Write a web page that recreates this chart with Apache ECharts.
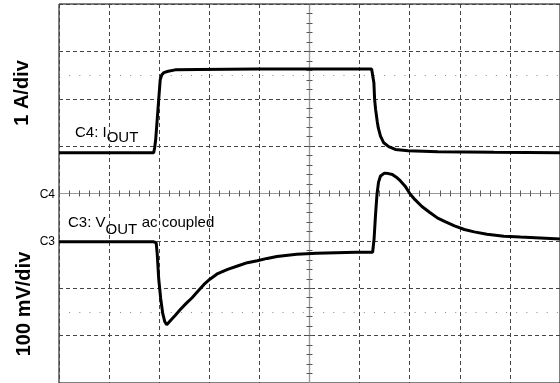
<!DOCTYPE html>
<html>
<head>
<meta charset="utf-8">
<script src="https://cdn.jsdelivr.net/npm/echarts@6/dist/echarts.min.js"></script>
<style>
  html, body { margin: 0; padding: 0; background: #fff; }
  #chart { width: 560px; height: 383px; }
</style>
</head>
<body>
<div id="chart"></div>
<script>
// ---- Data (units: graticule divisions; x = time div from centre, y = div from centre) ----
const iOutTime = [-5.0, -3.11, -3.09, -3.07, -3.04, -3.01, -2.98, -2.95, -2.91, -2.82, -2.68, -2.22, -1.04, 0.14, 1.24, 1.266, 1.285, 1.30, 1.32, 1.333, 1.352, 1.372, 1.417, 1.482, 1.581, 1.713, 1.969, 2.56, 3.68, 5.0];
const iOutAmp  = [0.86, 0.86, 0.97, 1.14, 1.56, 1.98, 2.40, 2.50, 2.55, 2.58, 2.61, 2.62, 2.63, 2.63, 2.63, 2.63, 2.34, 1.98, 1.77, 1.67, 1.52, 1.39, 1.21, 1.07, 0.99, 0.93, 0.90, 0.88, 0.87, 0.86];

const vOutTime = [-5.0, -3.11, -3.06, -3.04, -3.01, -2.97, -2.93, -2.89, -2.85, -2.815, -2.756, -2.677, -2.579, -2.461, -2.343, -2.224, -2.106, -1.988, -1.831, -1.634, -1.437, -1.240, -1.043, -0.846, -0.650, -0.256, 0.138, 0.531, 0.925, 1.26, 1.289, 1.319, 1.348, 1.378, 1.417, 1.496, 1.575, 1.654, 1.732, 1.811, 1.909, 2.008, 2.106, 2.244, 2.402, 2.559, 2.717, 2.894, 3.091, 3.287, 3.543, 3.878, 4.213, 4.606, 5.0];
const vOutAmp  = [-1.02, -1.02, -1.04, -1.27, -1.80, -2.22, -2.53, -2.70, -2.77, -2.73, -2.66, -2.57, -2.45, -2.32, -2.20, -2.06, -1.92, -1.81, -1.69, -1.60, -1.53, -1.46, -1.42, -1.37, -1.33, -1.28, -1.26, -1.25, -1.24, -1.24, -0.96, -0.43, -0.01, 0.24, 0.37, 0.43, 0.42, 0.40, 0.345, 0.27, 0.155, -0.01, -0.13, -0.275, -0.40, -0.52, -0.60, -0.685, -0.76, -0.81, -0.86, -0.90, -0.92, -0.94, -0.96];

const dottedLevels = [2.5, -2.5];
const channelMarks = [{ name: 'C4', level: 0 }, { name: 'C3', level: -1 }];
const axisTitles = ['1 A/div', '100 mV/div'];

const FONT = "'Liberation Sans', Arial, Helvetica, sans-serif";

const iOutData = iOutTime.map((t, i) => [t, iOutAmp[i]]);
const vOutData = vOutTime.map((t, i) => [t, vOutAmp[i]]);

const chart = echarts.init(document.getElementById('chart'), null, { renderer: 'canvas' });

const tickCommon = {
  axisLabel: { show: false },
  axisTick: { show: true, length: 3, lineStyle: { color: '#555', width: 1 } },
  minorTick: { show: true, splitNumber: 5, length: 3, lineStyle: { color: '#555', width: 1 } },
  axisLine: { show: true, onZero: true, onZeroAxisIndex: 0, lineStyle: { color: '#999', width: 1.2 } },
  minorSplitLine: { show: false }
};

const option = {
  animation: false,
  backgroundColor: '#fff',
  grid: { left: 59, top: 4, width: 508, height: 380.6, show: true, borderColor: '#000', borderWidth: 1, backgroundColor: 'transparent' },
  xAxis: [
    Object.assign({ type: 'value', min: -5, max: 5, interval: 1, position: 'bottom',
      splitLine: { show: true, lineStyle: { type: [4, 3], color: '#444', width: 1 } } }, tickCommon),
    Object.assign({ type: 'value', min: -5, max: 5, interval: 1, position: 'top',
      splitLine: { show: false } }, tickCommon)
  ],
  yAxis: [
    Object.assign({ type: 'value', min: -4, max: 4, interval: 1, position: 'left',
      splitLine: { show: true, lineStyle: { type: [4, 3], color: '#444', width: 1 } } }, tickCommon),
    Object.assign({ type: 'value', min: -4, max: 4, interval: 1, position: 'right',
      splitLine: { show: false } }, tickCommon)
  ],
  series: [
    {
      type: 'line', name: 'grid-dots', data: [], silent: true,
      markLine: {
        silent: true, symbol: 'none', label: { show: false },
        lineStyle: { type: [1, 9.16], color: '#888', width: 1 },
        data: dottedLevels.map(v => [{ coord: [-5, v] }, { coord: [5, v] }])
      }
    },
    {
      type: 'line', name: 'C4 IOUT', data: iOutData, showSymbol: false, symbol: 'none',
      lineStyle: { color: '#000', width: 3 }, z: 5
    },
    {
      type: 'line', name: 'C3 VOUT', data: vOutData, showSymbol: false, symbol: 'none',
      lineStyle: { color: '#000', width: 3 }, z: 5
    }
  ],
  graphic: [
    { type: 'text', x: 22, y: 93, rotation: Math.PI / 2,
      style: { text: axisTitles[0], font: 'bold 20px ' + FONT, fill: '#000', align: 'center', verticalAlign: 'middle' } },
    { type: 'text', x: 24, y: 304, rotation: Math.PI / 2,
      style: { text: axisTitles[1], font: 'bold 20px ' + FONT, fill: '#000', align: 'center', verticalAlign: 'middle' } },
    { type: 'text', x: 55, y: 195,
      style: { text: channelMarks[0].name, font: '12px ' + FONT, fill: '#000', align: 'right', verticalAlign: 'middle' } },
    { type: 'text', x: 55, y: 242,
      style: { text: channelMarks[1].name, font: '12px ' + FONT, fill: '#000', align: 'right', verticalAlign: 'middle' } },
    { type: 'text', x: 75, y: 132.5,
      style: { text: 'C4: I', font: '15px ' + FONT, fill: '#000', align: 'left', verticalAlign: 'middle' } },
    { type: 'text', x: 106.7, y: 138,
      style: { text: 'OUT', font: '15px ' + FONT, fill: '#000', align: 'left', verticalAlign: 'middle' } },
    { type: 'text', x: 68, y: 223,
      style: { text: 'C3: V', font: '15px ' + FONT, fill: '#000', align: 'left', verticalAlign: 'middle' } },
    { type: 'text', x: 105.5, y: 229.5,
      style: { text: 'OUT', font: '15px ' + FONT, fill: '#000', align: 'left', verticalAlign: 'middle' } },
    { type: 'text', x: 137.5, y: 223,
      style: { text: ' ac coupled', font: '15px ' + FONT, fill: '#000', align: 'left', verticalAlign: 'middle' } }
  ]
};

chart.setOption(option);
</script>
</body>
</html>
